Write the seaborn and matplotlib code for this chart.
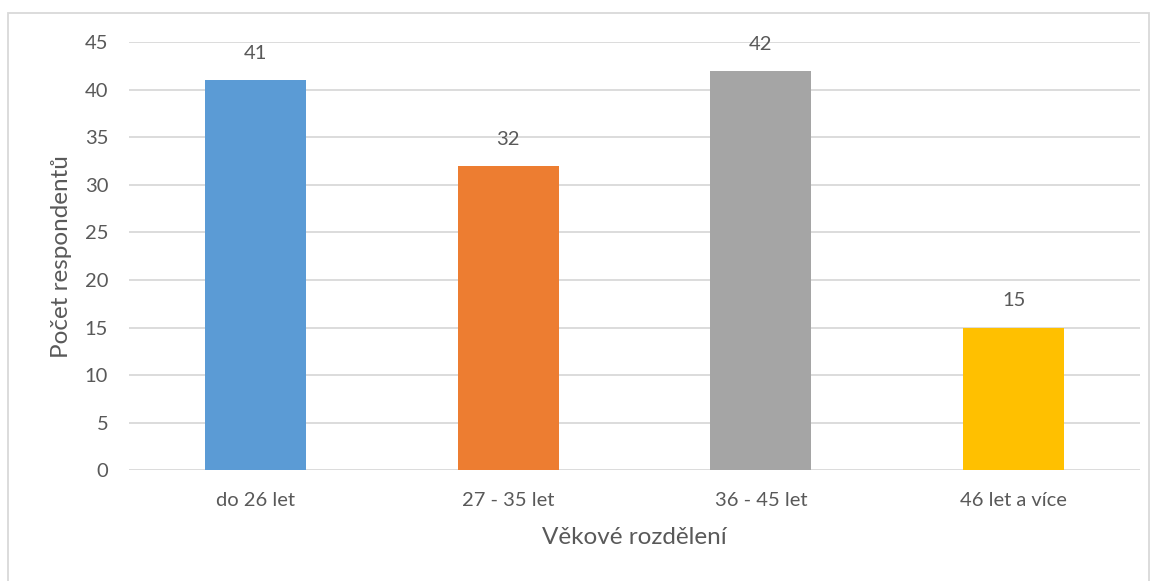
import matplotlib
matplotlib.use("Agg")
import matplotlib.pyplot as plt
import seaborn as sns
import pandas as pd
from matplotlib.patches import Rectangle

# data
categories = ["do 26 let", "27 - 35 let", "36 - 45 let", "46 let a více"]
counts = [41, 32, 42, 15]
colors = ["#5B9BD5", "#ED7D31", "#A5A5A5", "#FFC000"]

TEXT = "#595959"
GRID = "#D9D9D9"

sns.set_theme(style="white")
plt.rcParams["font.family"] = ["Lato", "DejaVu Sans"]

df = pd.DataFrame({"kat": categories, "pocet": counts})

fig = plt.figure(figsize=(11.57, 5.81), dpi=100)
ax = fig.add_axes([0.1115, 0.191, 0.8738, 0.7359])

sns.barplot(data=df, x="kat", y="pocet", hue="kat", palette=colors,
            width=0.40, saturation=1, legend=False, linewidth=0,
            ax=ax, zorder=3)

ax.set_ylim(0, 45)
ax.set_yticks(range(0, 50, 5))
ax.set_xlim(-0.5, 3.5)
ax.yaxis.grid(True, color=GRID, linewidth=1.3, zorder=0)
ax.set_axisbelow(True)
for s in ax.spines.values():
    s.set_visible(False)

ax.tick_params(axis="both", length=0, labelsize=14.5, labelcolor=TEXT)
ax.tick_params(axis="y", pad=15)
ax.tick_params(axis="x", pad=16)

for i, v in enumerate(counts):
    ax.text(i, v + 1.9, str(v), ha="center", va="bottom", fontsize=14.5, color=TEXT)

ax.set_xlabel("Věkové rozdělení", fontsize=17.5, color=TEXT, labelpad=13)
ax.set_ylabel("Počet respondentů", fontsize=17.5, color=TEXT, labelpad=9)

# outer chart frame
fig.patches.append(Rectangle((8 / 1157, -0.05), 1141 / 1157, 1.05 - 13 / 581,
                             transform=fig.transFigure, fill=False,
                             edgecolor="#D9D9D9", linewidth=1.3))

fig.savefig("out.png", dpi=100)
